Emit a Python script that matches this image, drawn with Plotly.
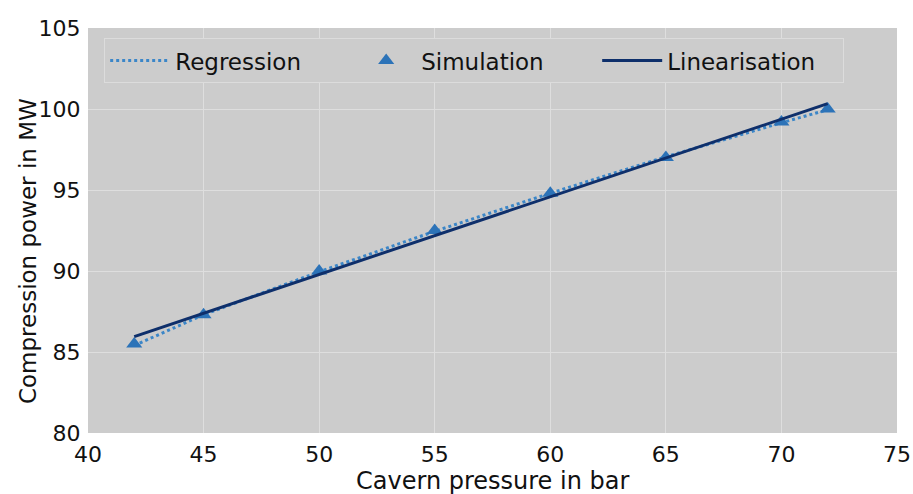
import plotly.graph_objects as go

# Cavern pressure (bar) and compression power (MW)
pressure = [42, 45, 50, 55, 60, 65, 70, 72]
simulation = [85.5, 87.3, 90.0, 92.5, 94.8, 97.0, 99.2, 100.0]
regression = [85.4, 87.3, 89.95, 92.45, 94.8, 97.05, 99.15, 99.95]
lin_pressure = [42, 72]
linearisation = [85.95, 100.33]

x_ticks = [40, 45, 50, 55, 60, 65, 70, 75]
y_ticks = [80, 85, 90, 95, 100, 105]

FONT = "DejaVu Sans"

fig = go.Figure()
fig.add_trace(go.Scatter(
    x=pressure, y=regression, mode="lines", name="Regression",
    line=dict(color="#3b86c8", width=3, dash="dot"),
))
fig.add_trace(go.Scatter(
    x=pressure, y=simulation, mode="markers", name="Simulation",
    marker=dict(symbol="triangle-up", size=14, color="#2c73b8"),
))
fig.add_trace(go.Scatter(
    x=lin_pressure, y=linearisation, mode="lines", name="Linearisation",
    line=dict(color="#0e2f6b", width=3),
))

fig.update_layout(
    width=913, height=494,
    margin=dict(l=88, r=16, t=28, b=61),
    paper_bgcolor="white",
    plot_bgcolor="#cccccc",
    font=dict(family=FONT, size=22, color="#111111"),
    showlegend=True,
    legend=dict(
        orientation="h", x=0.02, y=0.975, xanchor="left", yanchor="top",
        bgcolor="#cccccc", bordercolor="#dcdcdc", borderwidth=1,
        font=dict(family=FONT, size=23), itemwidth=60,
        entrywidth=171, traceorder="normal",
    ),
    annotations=[
        dict(
            text="Compression power in MW", textangle=-90,
            xref="paper", yref="paper", x=-0.075, y=0.45,
            xanchor="center", yanchor="middle", showarrow=False,
            font=dict(family=FONT, size=23),
        ),
        dict(
            text="Cavern pressure in bar",
            xref="paper", yref="paper", x=0.5, y=-0.118,
            xanchor="center", yanchor="middle", showarrow=False,
            font=dict(family=FONT, size=24),
        ),
    ],
)
fig.update_xaxes(
    range=[40, 75], tickvals=x_ticks, ticktext=[str(v) for v in x_ticks],
    showgrid=True, gridcolor="#dedede", gridwidth=1, zeroline=False,
    ticks="outside", ticklen=2, tickcolor="rgba(0,0,0,0)",
    tickfont=dict(size=22), automargin=False,
    showline=False,
)
fig.update_yaxes(
    range=[80, 105], tickvals=y_ticks, ticktext=[str(v) for v in y_ticks],
    showgrid=True, gridcolor="#dedede", gridwidth=1, zeroline=False,
    ticks="outside", ticklen=2, tickcolor="rgba(0,0,0,0)",
    tickfont=dict(size=22), automargin=False,
    showline=False,
)

fig.write_html("out.html")
